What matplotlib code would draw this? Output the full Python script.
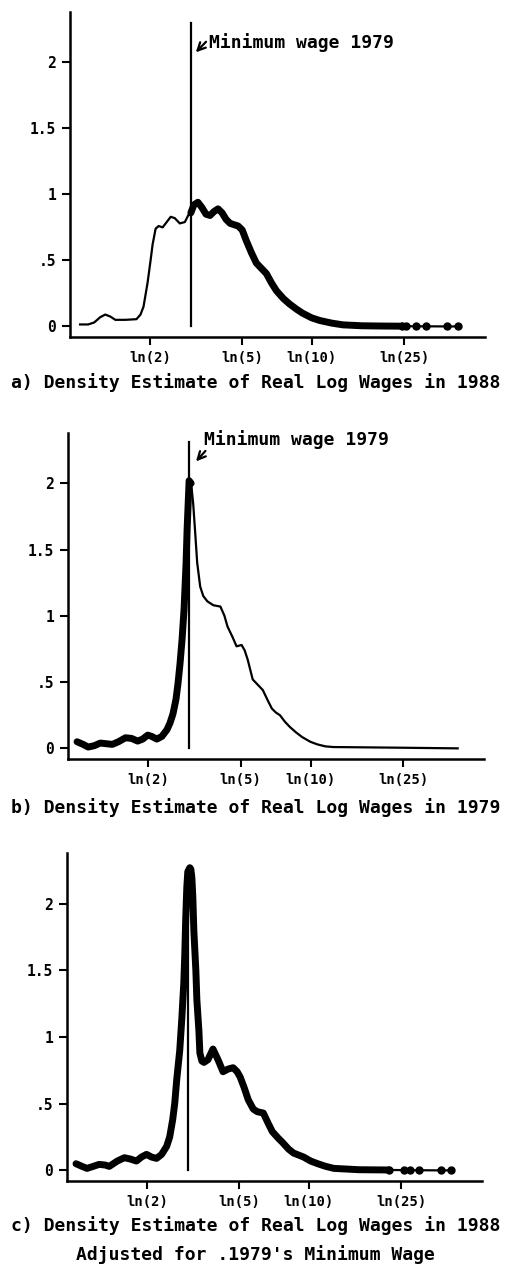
import matplotlib
matplotlib.use("Agg")
import matplotlib.pyplot as plt
import numpy as np

# tick positions (wages in dollars, axis is log wage)
wage_ticks = [2, 5, 10, 25]
wage_labels = ["ln(2)", "ln(5)", "ln(10)", "ln(25)"]
dens_ticks = [0, 0.5, 1, 1.5, 2]
dens_labels = ["0", ".5", "1", "1.5", "2"]
min_wage_log = 1.10

# a) 1988
a_x = [0.00, 0.08, 0.14, 0.20, 0.25, 0.30, 0.35, 0.45, 0.56, 0.60, 0.63, 0.67, 0.70, 0.72, 0.75, 0.78,
       0.82, 0.86, 0.90, 0.94, 0.99, 1.04, 1.08, 1.10, 1.13, 1.17, 1.21, 1.25, 1.29, 1.33, 1.37, 1.41,
       1.45, 1.49, 1.53, 1.57, 1.61, 1.65, 1.70, 1.75, 1.80, 1.85, 1.90, 1.95, 2.02, 2.08, 2.15, 2.21,
       2.30, 2.38, 2.50, 2.61, 2.80, 3.00, 3.20]
a_y = [0.015, 0.015, 0.03, 0.07, 0.09, 0.075, 0.05, 0.05, 0.055, 0.09, 0.15, 0.33, 0.50, 0.62, 0.74, 0.76,
       0.75, 0.79, 0.83, 0.82, 0.78, 0.79, 0.85, 0.86, 0.92, 0.94, 0.90, 0.85, 0.84, 0.87, 0.89, 0.86,
       0.81, 0.78, 0.77, 0.76, 0.73, 0.65, 0.56, 0.48, 0.44, 0.40, 0.33, 0.27, 0.21, 0.17, 0.13, 0.10,
       0.065, 0.045, 0.025, 0.012, 0.005, 0.003, 0.002]
a_dots_x = [3.24, 3.34, 3.43, 3.64, 3.75]
a_dots_y = [0.002, 0.001, 0.001, 0.0, 0.0]

# b) 1979
b_x = [-0.01, 0.05, 0.10, 0.16, 0.22, 0.28, 0.34, 0.40, 0.47, 0.53, 0.59, 0.64, 0.69, 0.73, 0.78, 0.83,
       0.88, 0.91, 0.94, 0.97, 0.99, 1.01, 1.03, 1.05, 1.07, 1.08, 1.10, 1.12, 1.14, 1.16, 1.18, 1.21,
       1.24, 1.28, 1.34, 1.41, 1.45, 1.48, 1.53, 1.57, 1.62, 1.65, 1.68, 1.73, 1.78, 1.83, 1.88, 1.92,
       1.96, 2.00, 2.05, 2.10, 2.16, 2.22, 2.30, 2.37, 2.45, 2.53, 2.80, 3.19, 3.76]
b_y = [0.05, 0.03, 0.01, 0.02, 0.04, 0.035, 0.03, 0.05, 0.08, 0.075, 0.055, 0.07, 0.10, 0.09, 0.07, 0.09,
       0.14, 0.19, 0.26, 0.37, 0.49, 0.64, 0.82, 1.05, 1.40, 1.65, 2.02, 2.00, 1.85, 1.63, 1.40, 1.22,
       1.15, 1.11, 1.08, 1.07, 1.00, 0.92, 0.84, 0.77, 0.78, 0.74, 0.67, 0.52, 0.48, 0.44, 0.36, 0.30,
       0.27, 0.25, 0.20, 0.16, 0.12, 0.085, 0.05, 0.03, 0.015, 0.01, 0.008, 0.005, 0.0]

# c) 1988 adjusted for 1979's minimum wage
c_x = [-0.01, 0.05, 0.10, 0.16, 0.22, 0.28, 0.32, 0.40, 0.47, 0.53, 0.59, 0.64, 0.69, 0.74, 0.79, 0.84,
       0.89, 0.92, 0.95, 0.97, 0.99, 1.02, 1.04, 1.06, 1.07, 1.08, 1.09, 1.10, 1.12, 1.13, 1.14, 1.15,
       1.16, 1.18, 1.19, 1.21, 1.22, 1.24, 1.26, 1.30, 1.35, 1.40, 1.45, 1.50, 1.55, 1.59, 1.62, 1.66,
       1.70, 1.75, 1.79, 1.85, 1.90, 1.94, 2.00, 2.04, 2.10, 2.15, 2.25, 2.32, 2.39, 2.47, 2.55, 2.80,
       3.10]
c_y = [0.05, 0.03, 0.015, 0.03, 0.045, 0.04, 0.03, 0.07, 0.095, 0.085, 0.07, 0.10, 0.12, 0.10, 0.09, 0.12,
       0.18, 0.25, 0.38, 0.50, 0.68, 0.90, 1.13, 1.40, 1.62, 1.90, 2.12, 2.24, 2.27, 2.26, 2.20, 2.05,
       1.80, 1.50, 1.28, 1.05, 0.88, 0.82, 0.81, 0.83, 0.91, 0.83, 0.74, 0.76, 0.77, 0.74, 0.70, 0.62,
       0.53, 0.46, 0.44, 0.43, 0.35, 0.29, 0.24, 0.21, 0.16, 0.13, 0.10, 0.07, 0.05, 0.03, 0.015, 0.005,
       0.003]
c_dots_x = [3.25, 3.31, 3.40, 3.61, 3.71]
c_dots_y = [0.002, 0.001, 0.001, 0.0, 0.0]

title_lines = ["a) Density Estimate of Real Log Wages in 1988",
               "b) Density Estimate of Real Log Wages in 1979",
               "c) Density Estimate of Real Log Wages in 1988",
               "Adjusted for .1979's Minimum Wage"]

plt.rcParams['font.family'] = ['DejaVu Sans Mono']
plt.rcParams['font.weight'] = 'bold'

fig = plt.figure(figsize=(5.11, 12.66), dpi=100)

boxes = [[0.137, 0.7338, 0.812, 0.2567],
         [0.133, 0.4005, 0.814, 0.2575],
         [0.131, 0.0671, 0.812, 0.2591]]
title_y = [0.6975, 0.3618, 0.0316, 0.0087]

thin = 1.6
thick = 5.0


def style_axes(ax):
    ax.set_xlim(-0.1, 4.02)
    ax.set_ylim(-0.08, 2.38)
    for s in ['top', 'right']:
        ax.spines[s].set_visible(False)
    for s in ['left', 'bottom']:
        ax.spines[s].set_linewidth(1.8)
    ax.set_xticks(np.log(wage_ticks))
    ax.set_xticklabels(wage_labels, fontsize=10, fontweight='bold')
    ax.set_yticks(dens_ticks)
    ax.set_yticklabels(dens_labels, fontsize=10.5, fontweight='bold')
    ax.tick_params(direction='out', length=6, width=1.5, pad=4)


# panel a
ax = fig.add_axes(boxes[0])
style_axes(ax)
xa = np.array(a_x)
ya = np.array(a_y)
ax.plot(xa[xa <= 1.11], ya[xa <= 1.11], color='black', lw=thin)
ax.plot(xa[xa >= 1.10], ya[xa >= 1.10], color='black', lw=thick, solid_capstyle='round')
ax.plot([a_x[-1]] + a_dots_x, [a_y[-1]] + a_dots_y, color='black', lw=thin,
        marker='o', markersize=5)
ax.plot([min_wage_log, min_wage_log], [0, 2.30], color='black', lw=1.6)
ax.text(1.285, 2.15, "Minimum wage 1979", fontsize=13, fontweight='bold', ha='left', va='center')
ax.annotate('', xy=(1.13, 2.06), xytext=(1.27, 2.17),
            arrowprops=dict(arrowstyle='->', lw=1.6, color='black', mutation_scale=14))

# panel b
ax = fig.add_axes(boxes[1])
style_axes(ax)
xb = np.array(b_x)
yb = np.array(b_y)
ax.plot(xb[xb >= 1.10], yb[xb >= 1.10], color='black', lw=thin)
ax.plot(xb[xb <= 1.12], yb[xb <= 1.12], color='black', lw=thick, solid_capstyle='round')
ax.plot([min_wage_log, min_wage_log], [0, 2.31], color='black', lw=1.6)
ax.text(1.245, 2.33, "Minimum wage 1979", fontsize=13, fontweight='bold', ha='left', va='center')
ax.annotate('', xy=(1.15, 2.15), xytext=(1.28, 2.26),
            arrowprops=dict(arrowstyle='->', lw=1.6, color='black', mutation_scale=14))

# panel c
ax = fig.add_axes(boxes[2])
style_axes(ax)
ax.plot(c_x, c_y, color='black', lw=thick, solid_capstyle='round')
ax.plot([c_x[-1]] + c_dots_x, [c_y[-1]] + c_dots_y, color='black', lw=thin,
        marker='o', markersize=5)
ax.plot([min_wage_log, min_wage_log], [0, 2.25], color='black', lw=1.6)

for t, ty in zip(title_lines, title_y):
    fig.text(0.5, ty, t, fontsize=13, fontweight='bold', ha='center', va='center')

fig.savefig("out.png", dpi=100)
